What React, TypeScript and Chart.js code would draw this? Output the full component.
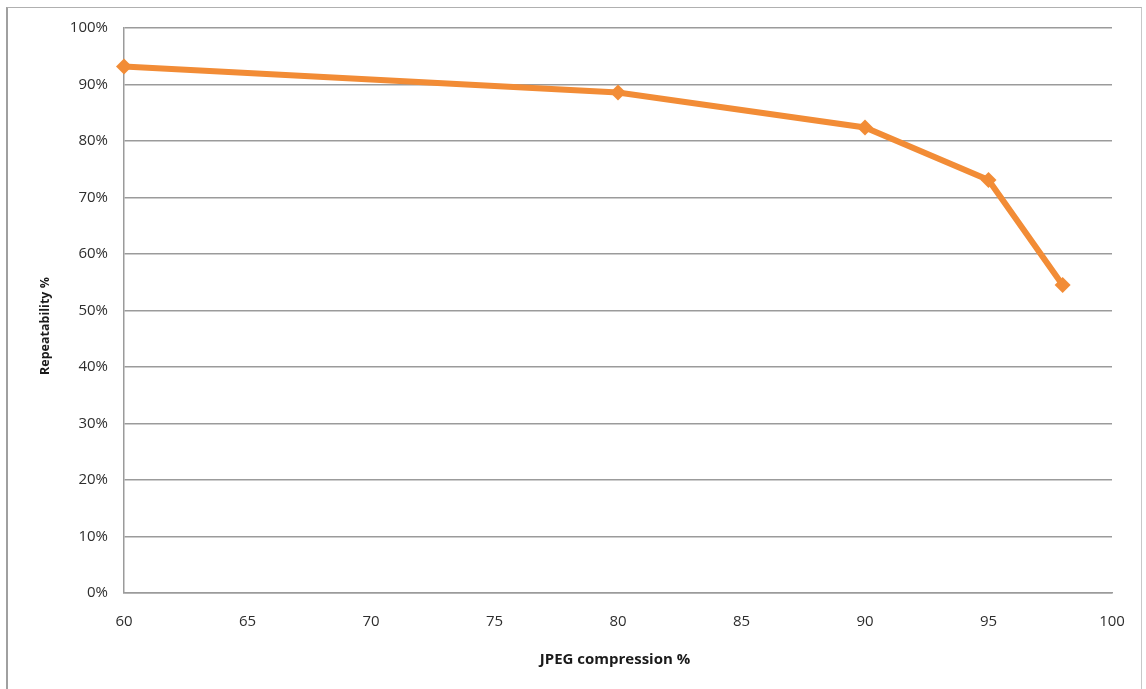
import React, { useEffect, useRef } from "react";
import { Chart, registerables } from "chart.js";

Chart.register(...registerables);

// JPEG compression level (%) and the measured repeatability (%) at each level
const compression = [60, 80, 90, 95, 98];
const repeatability = [93.2, 88.6, 82.4, 73.1, 54.5];

const xTitle = "JPEG compression %";
const yTitle = "Repeatability %";

const FONT = "'Open Sans', 'Noto Sans', sans-serif";
const LINE_COLOR = "#F28C36";
const GRID_COLOR = "#9b9b9b";

// Draws both axis titles at fixed spots beside the plot area
const axisTitles = {
  id: "axisTitles",
  afterDraw(chart: Chart) {
    const { ctx, chartArea } = chart;
    ctx.save();
    ctx.fillStyle = "#1a1a1a";
    ctx.textAlign = "center";
    ctx.textBaseline = "middle";
    ctx.font = `bold 15px ${FONT}`;
    ctx.fillText(xTitle, (chartArea.left + chartArea.right) / 2 - 3, 660);
    ctx.translate(45, 326);
    ctx.rotate(-Math.PI / 2);
    ctx.font = `bold 12.5px ${FONT}`;
    ctx.fillText(yTitle, 0, 0);
    ctx.restore();
  },
};

export default function App() {
  const canvasRef = useRef<HTMLCanvasElement | null>(null);

  useEffect(() => {
    const canvas = canvasRef.current;
    if (!canvas) return;
    const chart = new Chart(canvas, {
      type: "line",
      data: {
        datasets: [
          {
            data: compression.map((x, i) => ({ x, y: repeatability[i] })),
            borderColor: LINE_COLOR,
            backgroundColor: LINE_COLOR,
            borderWidth: 6,
            pointStyle: "rectRot",
            pointRadius: 8,
            pointBorderWidth: 0,
            pointBackgroundColor: LINE_COLOR,
            tension: 0,
            clip: false,
          },
        ],
      },
      options: {
        responsive: false,
        animation: false,
        layout: { padding: { left: 0, top: 28, right: 34, bottom: 0 } },
        plugins: {
          legend: { display: false },
          tooltip: { enabled: false },
        },
        scales: {
          x: {
            type: "linear",
            min: 60,
            max: 100,
            afterFit: (scale: any) => {
              scale.height = 96;
            },
            ticks: {
              stepSize: 5,
              padding: 20,
              color: "#2e2e2e",
              font: { family: FONT, size: 15 },
            },
            grid: { display: false, drawTicks: false },
            border: { display: true, color: GRID_COLOR, width: 1.5 },
          },
          y: {
            type: "linear",
            min: 0,
            max: 100,
            afterFit: (scale: any) => {
              scale.width = 124;
            },
            ticks: {
              stepSize: 10,
              padding: 16,
              color: "#2e2e2e",
              font: { family: FONT, size: 15 },
              callback: (v: any) => `${v}%`,
            },
            grid: { color: GRID_COLOR, lineWidth: 1.5, drawTicks: false },
            border: { display: true, color: GRID_COLOR, width: 1.5 },
          },
        },
      },
      plugins: [axisTitles],
    });
    return () => chart.destroy();
  }, []);

  return (
    <div
      style={{
        position: "absolute",
        left: 0,
        top: 0,
        width: 1146,
        height: 689,
        overflow: "hidden",
        background: "#ffffff",
      }}
    >
      <div
        style={{
          position: "absolute",
          left: 6,
          top: 7,
          width: 1136,
          height: 682,
          borderTop: "1px solid #b0b0b0",
          borderLeft: "2px solid #a0a0a0",
          borderRight: "1px solid #c8c8c8",
          boxSizing: "border-box",
        }}
      />
      <canvas
        ref={canvasRef}
        width={1146}
        height={689}
        style={{ position: "absolute", left: 0, top: 0 }}
      />
    </div>
  );
}
